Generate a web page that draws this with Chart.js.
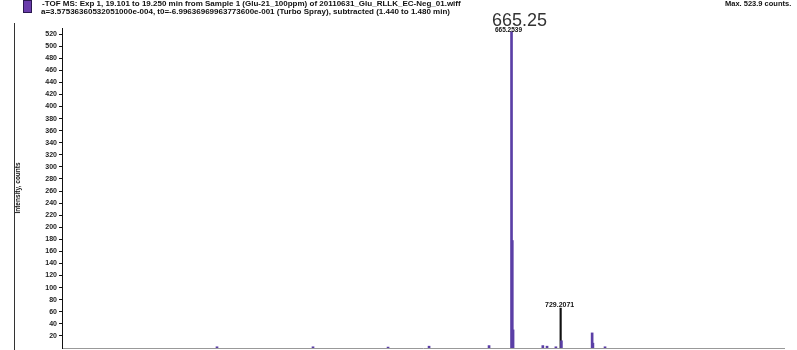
<!DOCTYPE html>
<html>
<head>
<meta charset="utf-8">
<script src="https://cdn.jsdelivr.net/npm/chart.js@4.4.1/dist/chart.umd.min.js"></script>
<style>
  html, body { margin: 0; padding: 0; background: #fff; }
  #wrap { position: relative; width: 797px; height: 350px; }
  canvas { display: block; }
</style>
</head>
<body>
<div id="wrap"><canvas id="spec" width="797" height="350"></canvas></div>
<script>
// Spectrum header lines
const headerLine1 = "-TOF MS: Exp 1, 19.101 to 19.250 min from Sample 1 (Glu-21_100ppm) of 20110631_Glu_RLLK_EC-Neg_01.wiff";
const headerLine2 = "a=3.57536360532051000e-004, t0=-6.99636969963773600e-001 (Turbo Spray), subtracted (1.440 to 1.480 min)";
const maxLabel = "Max. 523.9 counts.";
const yTitle = "Intensity, counts";

// Centroid peaks (m/z, intensity in counts)
const purpleMz    = [281.8, 406.8, 504.5, 557.9, 636.0, 665.2539, 666.26, 667.26, 706.0, 711.5, 723.0, 730.21, 770.2, 771.2, 787.0];
const purpleCount = [2,     2,     1.5,   3,     4,     523.9,    178,    30,     4,     3,     2,     12,     25,    8,     2];
const blackMz     = [729.2071];
const blackCount  = [66];

// Annotated peaks
const mainPeakMz = 665.2539;
const mainPeakBig = "665.25";
const mainPeakSmall = "665.2539";
const secondPeakMz = 729.2071;
const secondPeakLabel = "729.2071";

// Y ticks (counts)
const yTicks = [20, 40, 60, 80, 100, 120, 140, 160, 180, 200, 220, 240, 260, 280, 300, 320, 340, 360, 380, 400, 420, 440, 460, 480, 500, 520];

const toXY = (xs, ys) => xs.map((x, i) => ({ x: x, y: ys[i] }));

const decorations = {
  id: 'decorations',
  afterDraw(chart) {
    const ctx = chart.ctx;
    const xs = chart.scales.x, ys = chart.scales.y;
    ctx.save();

    // legend swatch
    ctx.fillStyle = '#6a3cab';
    ctx.fillRect(23, 0, 9, 13);
    ctx.strokeStyle = '#2a1850';
    ctx.lineWidth = 1;
    ctx.strokeRect(23.5, 0.5, 8, 12);

    // header text
    ctx.fillStyle = '#111';
    ctx.font = 'bold 8px "Liberation Sans", Arial, sans-serif';
    ctx.textBaseline = 'middle';
    ctx.textAlign = 'left';
    ctx.fillText(headerLine1, 42, 3.5, 436);
    ctx.fillText(headerLine2, 41, 11.5, 437);
    ctx.font = 'bold 7.5px "Liberation Sans", Arial, sans-serif';
    ctx.fillText(maxLabel, 725, 4, 70);

    // outer frame line
    ctx.strokeStyle = '#333';
    ctx.beginPath();
    ctx.moveTo(14.5, 23);
    ctx.lineTo(14.5, 350);
    ctx.stroke();

    // y axis title
    ctx.save();
    ctx.translate(18, 188);
    ctx.rotate(-Math.PI / 2);
    ctx.textAlign = 'center';
    ctx.textBaseline = 'middle';
    ctx.font = 'bold 6.5px "Liberation Sans", Arial, sans-serif';
    ctx.fillText(yTitle, 0, 0, 52);
    ctx.restore();

    // peak annotations
    const mx = xs.getPixelForValue(mainPeakMz);
    ctx.textAlign = 'center';
    ctx.textBaseline = 'alphabetic';
    ctx.fillStyle = '#333';
    ctx.font = '18px "Liberation Sans", Arial, sans-serif';
    ctx.fillText(mainPeakBig, mx + 8, 26);
    ctx.fillStyle = '#111';
    ctx.font = 'bold 6.5px "Liberation Sans", Arial, sans-serif';
    ctx.fillText(mainPeakSmall, mx - 3, 31.5, 32);

    const sx = xs.getPixelForValue(secondPeakMz);
    const sy = ys.getPixelForValue(blackCount[0]);
    ctx.font = 'bold 7px "Liberation Sans", Arial, sans-serif';
    ctx.fillText(secondPeakLabel, sx - 1, sy - 1, 35);

    ctx.restore();
  }
};

new Chart(document.getElementById('spec'), {
  type: 'bar',
  data: {
    datasets: [
      {
        data: toXY(purpleMz, purpleCount),
        backgroundColor: '#5b3fa6',
        barThickness: 2,
        grouped: false
      },
      {
        data: toXY(blackMz, blackCount),
        backgroundColor: '#111',
        barThickness: 1.5,
        grouped: false
      }
    ]
  },
  options: {
    responsive: false,
    animation: false,
    layout: { padding: { top: 28, right: 13, bottom: 2, left: 0 } },
    plugins: { legend: { display: false }, tooltip: { enabled: false } },
    scales: {
      x: {
        type: 'linear',
        min: 80,
        max: 1020,
        offset: false,
        grid: { display: false, drawTicks: false },
        ticks: { display: false },
        border: { display: true, color: '#999', dash: [2, 1], width: 1 },
        afterFit(scale) { scale.height = 0; }
      },
      y: {
        min: 0,
        max: 530,
        grid: { drawOnChartArea: false, drawTicks: true, tickLength: 3, color: '#111' },
        border: { display: true, color: '#111', width: 1 },
        afterBuildTicks(scale) { scale.ticks = yTicks.map(v => ({ value: v })); },
        ticks: {
          autoSkip: false,
          padding: 2,
          color: '#222',
          font: { family: '"Liberation Sans", Arial, sans-serif', size: 7, weight: 'bold' }
        },
        afterFit(scale) {
          scale.width = 62;
          scale.paddingTop = 0;
          scale.paddingBottom = 0;
        }
      }
    }
  },
  plugins: [decorations]
});
</script>
</body>
</html>
